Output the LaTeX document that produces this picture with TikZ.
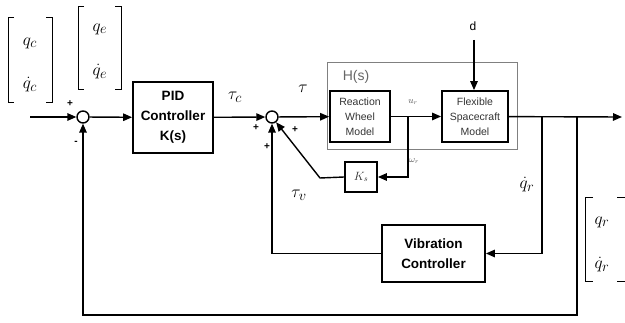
\documentclass[tikz,border=0pt]{standalone}
\usepackage{fontspec}
\newfontfamily\arial{Liberation Sans}
\usetikzlibrary{arrows.meta}
\tikzset{
  wire/.style={line width=1.4pt},
  arr/.style={wire,-{Triangle[length=9pt,width=7.5pt]}},
  bigbox/.style={draw,line width=1.8pt,minimum width=80pt,minimum height=71pt,inner sep=0pt,align=center,font=\arial\bfseries\fontsize{13.5}{20}\selectfont},
  smallbox/.style={draw,line width=1.8pt,inner sep=0pt,align=center,text=black!80,font=\arial\fontsize{10.5}{15}\selectfont},
  sumnode/.style={draw,circle,line width=1.4pt,minimum size=12pt,inner sep=0pt},
  sign/.style={font=\arial\bfseries\fontsize{10}{10}\selectfont,inner sep=0pt},
  mlab/.style={inner sep=0pt,font=\fontsize{19}{19}\selectfont},
  slab/.style={inner sep=0pt,text=black!70,font=\fontsize{9}{9}\selectfont},
  brk/.style={line width=1pt}
}
\begin{document}
\begin{tikzpicture}[x=1pt,y=-1pt]
\useasboundingbox (0,0) rectangle (625,323);
% H(s) group
\draw[line width=1pt,black!50] (327,63) rectangle (517,150);
\node[inner sep=0pt,text=black!60,font=\arial\fontsize{14}{14}\selectfont] (hs) at (356,77) {H(s)};
% nodes
\node[sumnode] (s1) at (83,117) {};
\node[sumnode] (s2) at (272,117) {};
\node[bigbox] (pid) at (173,117.5) {PID\\Controller\\K(s)};
\node[smallbox,minimum width=60pt,minimum height=51pt] (rw) at (360,116.5) {Reaction\\Wheel\\Model};
\node[smallbox,minimum width=66pt,minimum height=51pt] (fs) at (475,116.5) {Flexible\\Spacecraft\\Model};
\node[bigbox,minimum width=103pt,minimum height=57pt] (vc) at (433.5,253.5) {Vibration\\Controller};
\node[draw,line width=1.8pt,minimum width=32pt,minimum height=30pt,inner sep=0pt,text=black!80,font=\fontsize{12}{12}\selectfont] (ks) at (361,177) {$K_s$};
% coordinates
\coordinate (in) at (30,117);
\coordinate (out) at (622,117);
\coordinate (jw) at (408,117);
\coordinate (jv) at (542,117);
\coordinate (jf) at (577,117);
\coordinate (dtop) at (474,40);
\coordinate (kd) at (320,178);
% connectors
\draw[arr] (in) -- (s1);
\draw[arr] (s1) -- (pid);
\draw[arr] (pid) -- (s2);
\draw[arr] (s2) -- (rw);
\draw[arr] (rw) -- (fs);
\draw[arr] (fs) -- (out);
\draw[arr] (dtop) -- (dtop |- fs.north);
\draw[arr] (jw) |- (ks.east);
\draw[arr] (ks.west) -- (kd) -- (s2);
\draw[arr] (jv) |- (vc.east);
\draw[arr] (vc.west) -| (s2);
\draw[arr] (jf) -- (577,315) -| (s1);
% labels
\node[sign] (p1) at (70,104) {+};
\node[sign] (m1) at (76,143) {-};
\node[sign] (p2) at (256,128) {+};
\node[sign] (p3) at (295,130) {+};
\node[sign] (p4) at (267,147) {+};
\node[mlab] (tc) at (235,97) {$\tau_c$};
\node[mlab] (t) at (303,89) {$\tau$};
\node[mlab] (tv) at (299,195) {$\tau_v$};
\node[slab] (ur) at (413,102) {$u_r$};
\node[slab] (wr) at (414,161) {$\omega_r$};
\node[mlab] (qrd) at (527,185) {$\dot{q}_r$};
\node[inner sep=0pt,font=\arial\fontsize{12}{12}\selectfont] (d) at (473,26) {d};
% bracket qc
\draw[brk] (14,18) -- (8,18) -- (8,103) -- (14,103);
\draw[brk] (46,18) -- (52,18) -- (52,103) -- (46,103);
\node[mlab] (qc) at (30,43) {$q_c$};
\node[mlab] (qcd) at (30,85) {$\dot{q}_c$};
% bracket qe
\draw[brk] (84,7) -- (78,7) -- (78,90) -- (84,90);
\draw[brk] (115,7) -- (121,7) -- (121,90) -- (115,90);
\node[mlab] (qe) at (100,29) {$q_e$};
\node[mlab] (qed) at (100,72) {$\dot{q}_e$};
% bracket qr
\draw[brk] (593,198) -- (585,198) -- (585,282) -- (593,282);
\draw[brk] (617,198) -- (625,198);
\draw[brk] (617,282) -- (625,282);
\node[mlab] (qr) at (602,222) {$q_r$};
\node[mlab] (qrd2) at (602,265) {$\dot{q}_r$};
\end{tikzpicture}
\end{document}
